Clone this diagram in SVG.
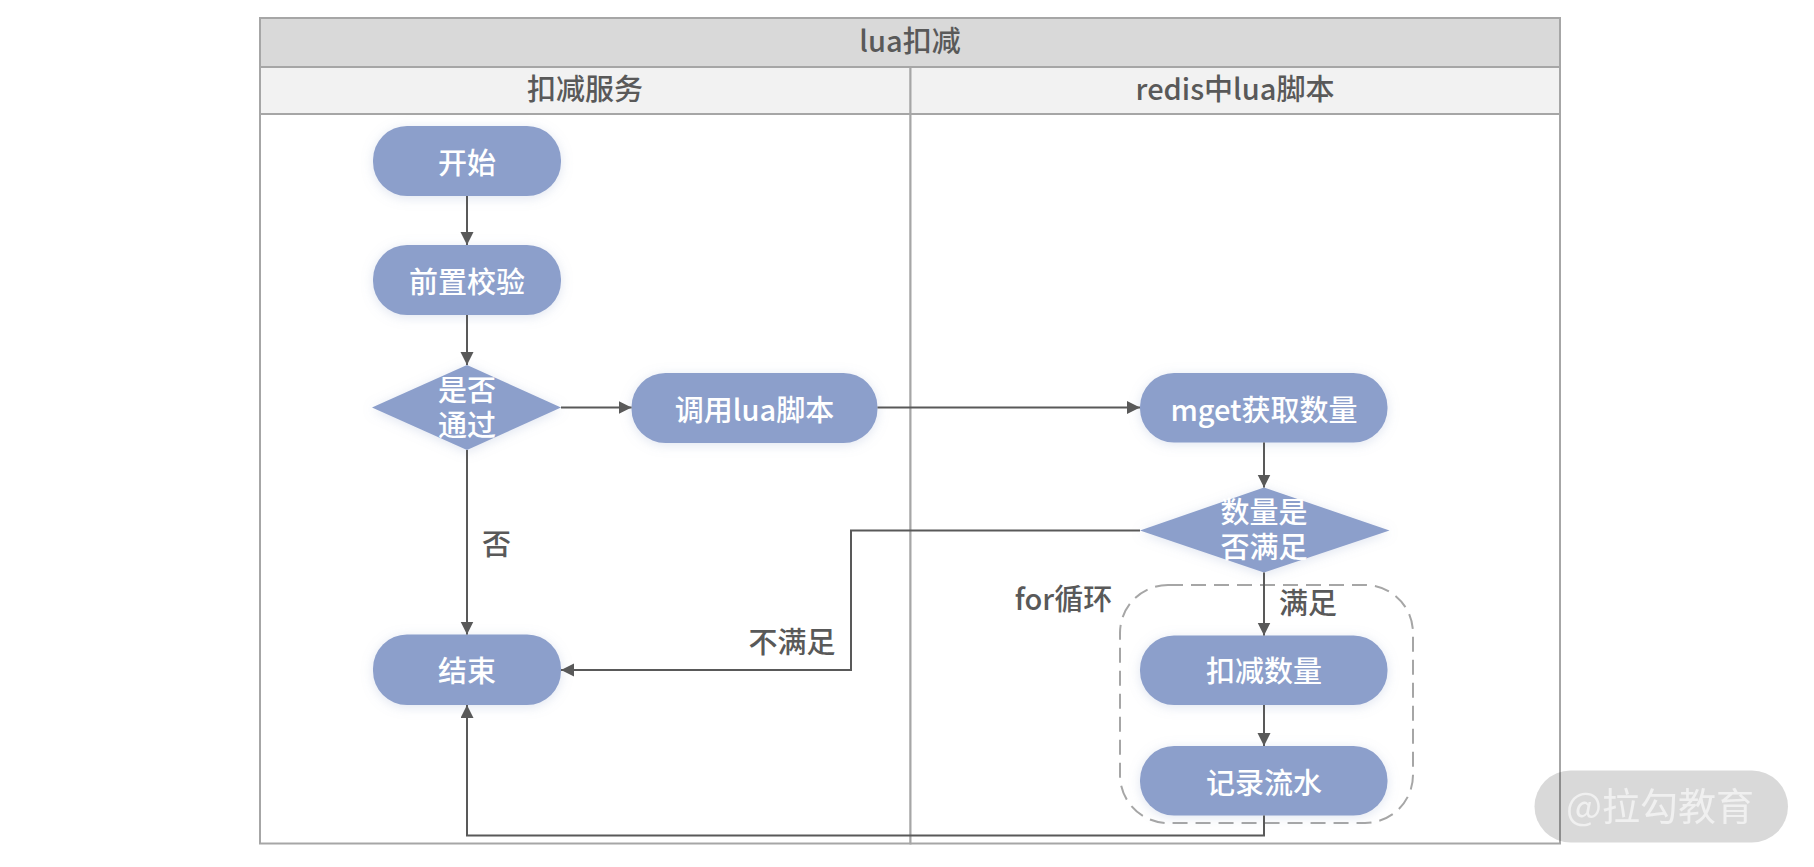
<svg xmlns="http://www.w3.org/2000/svg" width="1814" height="867" viewBox="0 0 1814 867">
<defs>
<style>
text{font-family:"Noto Sans CJK SC","Noto Sans",sans-serif;font-size:29px;text-anchor:middle;font-weight:500}
.n{fill:#8c9fcb;filter:url(#glow)}
.w{fill:#fff}
.d{fill:#595959}
.f{stroke:#a6a6a6;stroke-width:2}
.c{fill:none;stroke:#595959;stroke-width:2;marker-end:url(#a)}
</style>
<filter id="glow" x="-20%" y="-30%" width="140%" height="160%"><feDropShadow dx="0" dy="2" stdDeviation="6" flood-color="#8c9fcb" flood-opacity="0.28"/></filter>
<filter id="soft" x="-5%" y="-5%" width="110%" height="110%"><feGaussianBlur stdDeviation="0.6"/></filter>
<marker id="a" markerUnits="userSpaceOnUse" markerWidth="14" markerHeight="14" refX="13" refY="6.5" orient="auto"><path d="M0 0L13 6.5L0 13Z" fill="#595959"/></marker>
</defs>
<rect width="1814" height="867" fill="#fff"/>
<g id="frame">
<rect class="f" x="260" y="18" width="1300" height="49" fill="#d9d9d9"/>
<rect class="f" x="260" y="67" width="650.5" height="47" fill="#f2f2f2"/>
<rect class="f" x="910.5" y="67" width="649.5" height="47" fill="#f2f2f2"/>
<rect class="f" x="260" y="114" width="650.5" height="729.5" fill="#fff"/>
<rect class="f" x="910.5" y="114" width="649.5" height="729.5" fill="#fff"/>
<text class="d" x="910" y="52">lua扣减</text>
<text class="d" x="585" y="99.500">扣减服务</text>
<text class="d" x="1235" y="99.500">redis中lua脚本</text>
</g>
<rect id="loop" x="1120" y="585" width="293" height="238" rx="48" ry="48" fill="none" stroke="#a6a6a6" stroke-width="2" stroke-dasharray="15 8"/>
<g id="start"><rect class="n" x="373" y="126" width="188" height="70" rx="34"/><text class="w" x="467" y="174">开始</text></g>
<g id="check"><rect class="n" x="373" y="245" width="188" height="70" rx="34"/><text class="w" x="467" y="293">前置校验</text></g>
<g id="pass"><polygon class="n" points="467,365 561,407.500 467,450 372,407.500"/><text class="w"><tspan x="467" y="401">是否</tspan><tspan x="467" y="436">通过</tspan></text></g>
<g id="call"><rect class="n" x="631.500" y="373" width="246" height="70" rx="34"/><text class="w" x="754.500" y="421">调用lua脚本</text></g>
<g id="end"><rect class="n" x="373" y="634.500" width="188" height="70.500" rx="34"/><text class="w" x="467" y="682">结束</text></g>
<g id="mget"><rect class="n" x="1140" y="373" width="247.500" height="69.500" rx="34"/><text class="w" x="1264" y="421">mget获取数量</text></g>
<g id="enough"><polygon class="n" points="1264,487.500 1389.500,530.500 1264,572.500 1140,530.500"/><text class="w"><tspan x="1264" y="523">数量是</tspan><tspan x="1264" y="558">否满足</tspan></text></g>
<g id="deduct"><rect class="n" x="1140" y="635.500" width="247.500" height="69.500" rx="34"/><text class="w" x="1264" y="682">扣减数量</text></g>
<g id="log"><rect class="n" x="1140" y="746" width="247.500" height="69.500" rx="34"/><text class="w" x="1264" y="794">记录流水</text></g>
<g id="connectors">
<path class="c" d="M467 196V245"/>
<path class="c" d="M467 315V365"/>
<path class="c" d="M561 407.500H631.500"/>
<path class="c" d="M877.500 407.500H1140"/>
<path class="c" d="M467 450V634.500"/>
<path class="c" d="M1264 442.500V487.500"/>
<path class="c" d="M1140 530.500H851V670H561"/>
<path class="c" d="M1264 572.500V635.500"/>
<path class="c" d="M1264 705V746"/>
<path class="c" d="M1264 815.500V835.500H467V705"/>
</g>
<g id="labels">
<text class="d" x="496.500" y="555">否</text>
<text class="d" x="792" y="653">不满足</text>
<text class="d" x="1063.500" y="610">for循环</text>
<text class="d" x="1308" y="613.500">满足</text>
</g>
<g id="watermark">
<rect x="1534.500" y="770.500" width="253.500" height="72" rx="36" fill="#000" fill-opacity="0.15"/>
<text x="1660" y="820" fill="#fff" fill-opacity="0.6" filter="url(#soft)" style="font-size:38px;font-weight:400">@拉勾教育</text>
</g>
</svg>
